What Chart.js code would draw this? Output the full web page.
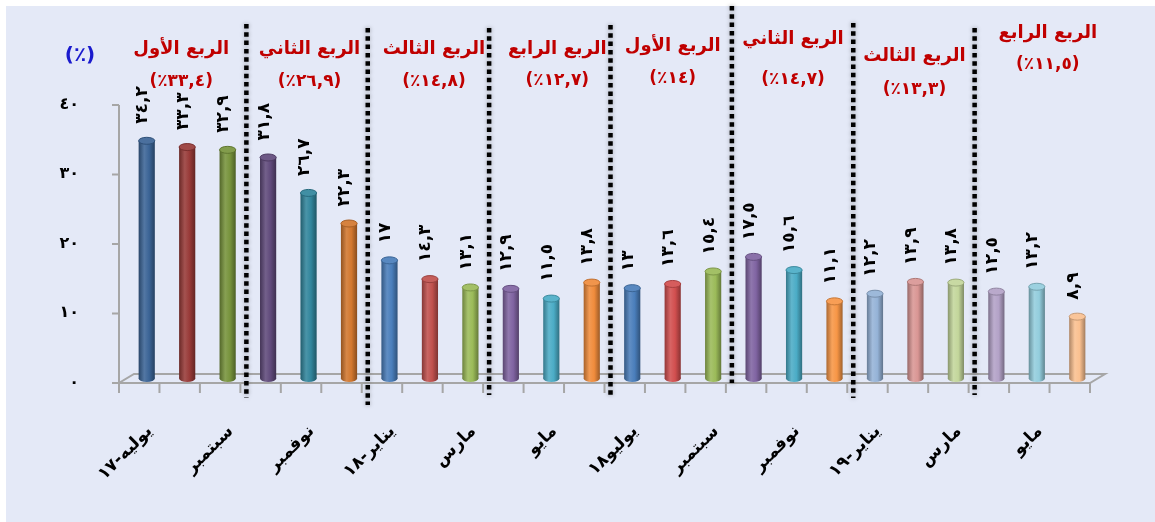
<!DOCTYPE html>
<html lang="ar">
<head>
<meta charset="utf-8">
<script src="https://cdn.jsdelivr.net/npm/chart.js@4.4.1/dist/chart.umd.min.js"></script>
<style>
  html, body { margin: 0; padding: 0; background: #fff; }
  #wrap { width: 1155px; height: 522px; }
</style>
</head>
<body>
<div id="wrap"><canvas id="chart" width="1155" height="522"></canvas></div>
<script>
// الشهور (يظهر شهر واحد من كل شهرين على المحور)
const monthLabels = ['يوليه-١٧', '', 'سبتمبر', '', 'نوفمبر', '', 'يناير-١٨', '', 'مارس', '', 'مايو', '',
                     'يوليو١٨', '', 'سبتمبر', '', 'نوفمبر', '', 'يناير-١٩', '', 'مارس', '', 'مايو', ''];
const rates = [34.2, 33.3, 32.9, 31.8, 26.7, 22.3, 17, 14.3, 13.1, 12.9, 11.5, 13.8,
               13, 13.6, 15.4, 17.5, 15.6, 11.1, 12.2, 13.9, 13.8, 12.5, 13.2, 8.9];
const barColors = ['#3B6496', '#983A38', '#77933C', '#604A7B', '#31859C', '#D2772E',
                   '#4A7EBB', '#C0504D', '#9BBB59', '#8064A2', '#4BACC6', '#F08C3C',
                   '#4A7EBB', '#D24F4F', '#9BBB59', '#8064A2', '#4BACC6', '#F79646',
                   '#95B3D7', '#D99694', '#C3D69B', '#B3A2C7', '#93CDDD', '#FAC090'];
const quarterNames = ['الربع الأول', 'الربع الثاني', 'الربع الثالث', 'الربع الرابع',
                      'الربع الأول', 'الربع الثاني', 'الربع الثالث', 'الربع الرابع'];
const quarterRates = [33.4, 26.9, 14.8, 12.7, 14, 14.7, 13.3, 11.5];
const yTicks = [0, 10, 20, 30, 40];

// مواضع نصوص الأرباع والخطوط الفاصلة
const quarterTextPos = [[-6, 49, 82], [1, 49, 82], [4, 49, 82], [6, 49, 81],
                        [0, 46, 79], [-1, 39, 80], [-1, 56, 90], [11, 33, 65]];
const separatorPos = [[24, 398], [28, 405], [28, 395], [25, 398], [6, 383], [23, 398], [28, 395]];

const FONT = "'DejaVu Sans', sans-serif";
const DEPTH_X = 7.5, DEPTH_Y = 4.5;

function arNum(v) {
    return String(v).replace('.', ',').replace(/[0-9]/g, d => '٠١٢٣٤٥٦٧٨٩'[+d]);
}

function mix(hex, t) {
    const n = parseInt(hex.slice(1), 16);
    let c = [(n >> 16) & 255, (n >> 8) & 255, n & 255];
    c = c.map(v => Math.round(t > 0 ? v + (255 - v) * t : v * (1 + t)));
    return `rgb(${c[0]}, ${c[1]}, ${c[2]})`;
}

function cylFill(c) {
    const chart = c.chart;
    const xs = chart.scales && chart.scales.x;
    if (c.dataIndex === undefined) return barColors[0];
    const base = barColors[c.dataIndex];
    if (!xs || !chart.chartArea) return base;
    const cx = xs.getPixelForValue(c.dataIndex);
    const w = xs.width / rates.length * 0.4;
    const g = chart.ctx.createLinearGradient(cx - w / 2, 0, cx + w / 2, 0);
    g.addColorStop(0, mix(base, -0.3));
    g.addColorStop(0.35, mix(base, 0.12));
    g.addColorStop(0.65, base);
    g.addColorStop(1, mix(base, -0.35));
    return g;
}

const backgroundPlugin = {
    id: 'bg',
    beforeDraw(chart) {
        const ctx = chart.ctx;
        ctx.save();
        ctx.fillStyle = '#fff';
        ctx.fillRect(0, 0, chart.width, chart.height);
        ctx.fillStyle = '#E4E9F7';
        ctx.fillRect(6, 6, chart.width - 6, chart.height - 6);
        ctx.restore();
    }
};

// أرضية ثلاثية الأبعاد ومحور القيم
const framePlugin = {
    id: 'frame3d',
    beforeDatasetsDraw(chart) {
        const ctx = chart.ctx;
        const ys = chart.scales.y;
        const L = chart.chartArea.left, R = chart.chartArea.right, B = ys.getPixelForValue(0);
        ctx.save();
        ctx.strokeStyle = '#A6A6A6';
        ctx.lineWidth = 2;
        ctx.beginPath();
        ctx.moveTo(L - DEPTH_X, B + DEPTH_Y); ctx.lineTo(R - DEPTH_X, B + DEPTH_Y);
        ctx.lineTo(R + DEPTH_X, B - DEPTH_Y); ctx.lineTo(L + DEPTH_X, B - DEPTH_Y);
        ctx.closePath();
        ctx.stroke();
        // علامات المحور الأفقي
        const step = (R - L) / rates.length;
        ctx.beginPath();
        for (let k = 0; k <= rates.length; k++) {
            const px = L + k * step - DEPTH_X;
            ctx.moveTo(px, B + DEPTH_Y); ctx.lineTo(px, B + DEPTH_Y + 10);
        }
        ctx.stroke();
        // المحور الرأسي
        const ax = L - DEPTH_X;
        ctx.beginPath();
        ctx.moveTo(ax, ys.getPixelForValue(yTicks[yTicks.length - 1]) + DEPTH_Y);
        ctx.lineTo(ax, B + DEPTH_Y);
        yTicks.forEach(t => {
            const py = ys.getPixelForValue(t) + DEPTH_Y;
            ctx.moveTo(ax - 7, py); ctx.lineTo(ax, py);
        });
        ctx.stroke();
        // قاعدة الأسطوانات
        const meta = chart.getDatasetMeta(0);
        meta.data.forEach(bar => {
            const p = bar.getProps(['x', 'base', 'width'], true);
            ctx.beginPath();
            ctx.ellipse(p.x, p.base, p.width / 2, 3.5, 0, 0, Math.PI * 2);
            ctx.fillStyle = bar.options.backgroundColor;
            ctx.fill();
        });
        ctx.restore();
    },
    afterDatasetsDraw(chart) {
        const ctx = chart.ctx;
        const meta = chart.getDatasetMeta(0);
        ctx.save();
        meta.data.forEach((bar, i) => {
            const p = bar.getProps(['x', 'y', 'width'], true);
            ctx.beginPath();
            ctx.ellipse(p.x, p.y, p.width / 2, 3.5, 0, 0, Math.PI * 2);
            ctx.fillStyle = mix(barColors[i], 0.08);
            ctx.fill();
            ctx.strokeStyle = mix(barColors[i], -0.2);
            ctx.lineWidth = 1;
            ctx.stroke();
        });
        // قيم الأعمدة
        ctx.fillStyle = '#000';
        ctx.font = `bold 17px ${FONT}`;
        ctx.direction = 'ltr';
        ctx.textAlign = 'left';
        ctx.textBaseline = 'middle';
        meta.data.forEach((bar, i) => {
            const p = bar.getProps(['x', 'y'], true);
            ctx.save();
            ctx.translate(p.x - 4, p.y - 17);
            ctx.rotate(-Math.PI / 2);
            ctx.fillText(arNum(rates[i]), 0, 0);
            ctx.restore();
        });
        ctx.restore();
    }
};

// الخطوط الفاصلة ونصوص الأرباع
const quarterPlugin = {
    id: 'quarters',
    afterDraw(chart) {
        const ctx = chart.ctx;
        const xs = chart.scales.x;
        ctx.save();
        ctx.strokeStyle = '#000';
        ctx.lineWidth = 4.5;
        ctx.setLineDash([4.5, 3.8]);
        ctx.shadowColor = 'rgba(0,0,0,0.35)';
        ctx.shadowBlur = 4;
        separatorPos.forEach((s, k) => {
            const i = (k + 1) * 3;
            const x = (xs.getPixelForValue(i - 1) + xs.getPixelForValue(i)) / 2 - 1.5;
            ctx.beginPath();
            ctx.moveTo(x, s[0]);
            ctx.lineTo(x, s[1]);
            ctx.stroke();
        });
        ctx.restore();

        ctx.save();
        ctx.direction = 'ltr';
        ctx.textAlign = 'center';
        ctx.textBaseline = 'middle';
        ctx.fillStyle = '#C00000';
        quarterNames.forEach((name, q) => {
            const pos = quarterTextPos[q];
            const cx = xs.getPixelForValue(q * 3 + 1) + pos[0];
            ctx.font = `bold 18px ${FONT}`;
            ctx.fillText(name, cx, pos[1]);
            ctx.font = `bold 17px ${FONT}`;
            ctx.fillText('(٪' + arNum(quarterRates[q]) + ')', cx, pos[2]);
        });
        ctx.fillStyle = '#1A1ACD';
        ctx.font = `bold 20px ${FONT}`;
        ctx.fillText('(٪)', 80, 56);
        ctx.restore();
    }
};

const chart = new Chart(document.getElementById('chart'), {
    type: 'bar',
    data: {
        labels: monthLabels,
        datasets: [{
            data: rates,
            backgroundColor: cylFill,
            borderWidth: 0,
            barPercentage: 0.4,
            categoryPercentage: 1
        }]
    },
    options: {
        responsive: false,
        animation: false,
        layout: { padding: { top: 100.5, right: 57.5, left: 0, bottom: 0 } },
        plugins: {
            legend: { display: false },
            tooltip: { enabled: false }
        },
        scales: {
            x: {
                grid: { display: false },
                border: { display: false },
                ticks: {
                    autoSkip: false,
                    minRotation: 45,
                    maxRotation: 45,
                    padding: 35,
                    labelOffset: 3,
                    color: '#000',
                    font: { family: FONT, size: 17, weight: 'bold' }
                },
                afterFit: s => { s.height = 143.5; }
            },
            y: {
                min: 0,
                max: 40,
                grid: { display: false },
                border: { display: false },
                ticks: {
                    stepSize: 10,
                    padding: 39.5,
                    labelOffset: 4,
                    color: '#000',
                    font: { family: FONT, size: 16, weight: 'bold' },
                    callback: v => arNum(v)
                },
                afterFit: s => { s.width = 126.5; }
            }
        }
    },
    plugins: [backgroundPlugin, framePlugin, quarterPlugin]
});
</script>
</body>
</html>
